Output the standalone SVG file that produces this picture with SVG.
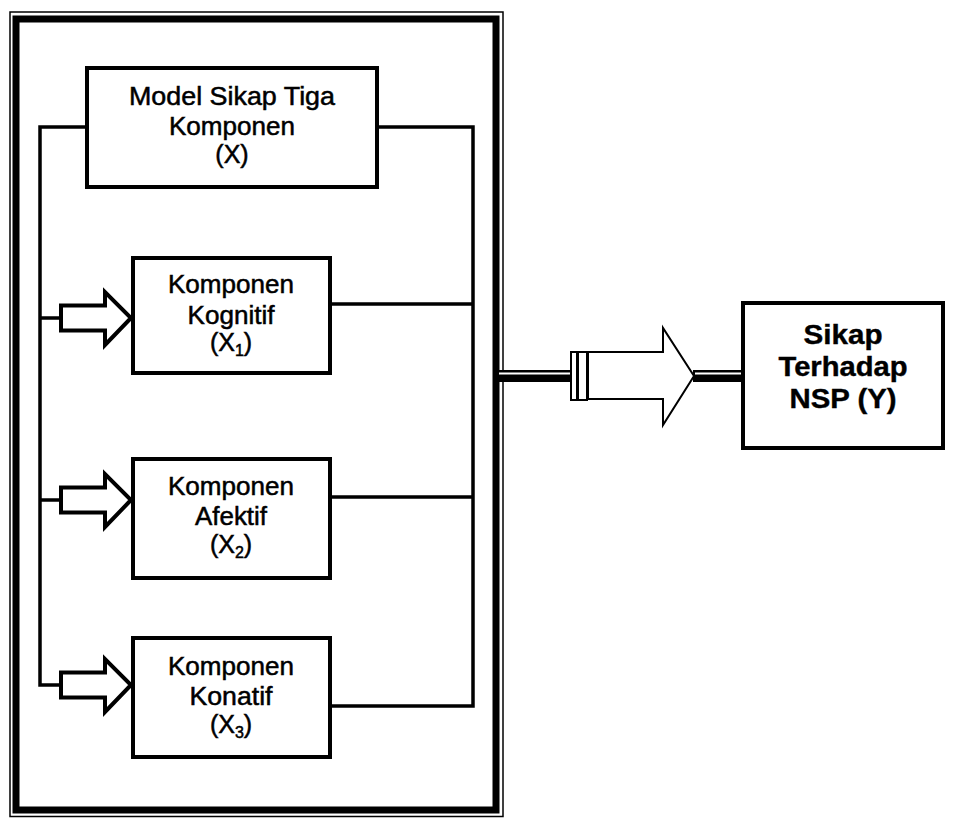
<svg xmlns="http://www.w3.org/2000/svg" width="953" height="818" viewBox="0 0 953 818">
<style>
.box{fill:#fff;stroke:#000;stroke-width:4}
.conn{fill:none;stroke:#000;stroke-width:3.5}
.t{font-family:"Liberation Sans",Arial,sans-serif;font-size:25px;fill:#000;stroke:#000;stroke-width:0.5;text-anchor:middle}
.tb{font-family:"Liberation Sans",Arial,sans-serif;font-size:27px;font-weight:bold;fill:#000;stroke:#000;stroke-width:0.4;text-anchor:middle}
.sub{font-size:16px}
.barrow{fill:#fff;stroke:#000;stroke-width:4;stroke-linejoin:miter}
</style>
<defs>
<polygon id="blk" points="61,-12.5 105,-12.5 105,-26 131,0 105,27 105,12.5 61,12.5"/>
</defs>
<rect width="953" height="818" fill="#fff"/>
<g id="frame">
<rect x="10" y="12" width="493" height="804.5" fill="none" stroke="#000" stroke-width="1.5"/>
<rect x="16" y="19" width="480" height="791" fill="none" stroke="#000" stroke-width="7"/>
</g>
<g id="connectors">
<path class="conn" d="M87,127 H40 V685 H61 M40,318 H61 M40,500 H61"/>
<path class="conn" d="M377,127 H473 V706 H330 M330,304 H473 M330,497 H473"/>
<use href="#blk" class="barrow" transform="translate(0,318)"/>
<use href="#blk" class="barrow" transform="translate(0,500)"/>
<use href="#blk" class="barrow" transform="translate(0,685)"/>
<rect x="499" y="370" width="72" height="12" fill="#000"/>
<line x1="499" y1="373.5" x2="571" y2="373.5" stroke="#fff" stroke-width="2"/>
<rect x="571" y="352" width="6" height="48" fill="#fff" stroke="#000" stroke-width="2"/>
<rect x="578" y="352" width="9" height="48" fill="#fff" stroke="#000" stroke-width="2"/>
<polygon points="588,352 663,352 663,328 694,376 663,425 663,399 588,399" fill="#fff" stroke="#000" stroke-width="2"/>
<rect x="693" y="370" width="50" height="12" fill="#000"/>
<line x1="695" y1="373.5" x2="743" y2="373.5" stroke="#fff" stroke-width="2"/>
</g>
<g id="model">
<rect class="box" x="87" y="68" width="290" height="119"/>
<text class="t" x="232" y="105" textLength="206" lengthAdjust="spacingAndGlyphs">Model Sikap Tiga</text>
<text class="t" x="232" y="135" textLength="126" lengthAdjust="spacingAndGlyphs">Komponen</text>
<text class="t" x="232" y="163">(X)</text>
</g>
<g id="kognitif">
<rect class="box" x="133" y="258" width="197" height="115"/>
<text class="t" x="231" y="293" textLength="126" lengthAdjust="spacingAndGlyphs">Komponen</text>
<text class="t" x="231" y="324" textLength="87" lengthAdjust="spacingAndGlyphs">Kognitif</text>
<text class="t" x="231" y="351">(X<tspan class="sub" dy="5">1</tspan><tspan dy="-5">)</tspan></text>
</g>
<g id="afektif">
<rect class="box" x="133" y="459" width="197" height="119"/>
<text class="t" x="231" y="495" textLength="126" lengthAdjust="spacingAndGlyphs">Komponen</text>
<text class="t" x="231" y="525" textLength="72" lengthAdjust="spacingAndGlyphs">Afektif</text>
<text class="t" x="231" y="553">(X<tspan class="sub" dy="5">2</tspan><tspan dy="-5">)</tspan></text>
</g>
<g id="konatif">
<rect class="box" x="133" y="638" width="197" height="119"/>
<text class="t" x="231" y="675" textLength="126" lengthAdjust="spacingAndGlyphs">Komponen</text>
<text class="t" x="231" y="705" textLength="83" lengthAdjust="spacingAndGlyphs">Konatif</text>
<text class="t" x="231" y="733">(X<tspan class="sub" dy="5">3</tspan><tspan dy="-5">)</tspan></text>
</g>
<g id="sikap">
<rect class="box" x="743" y="303" width="200" height="145"/>
<text class="tb" x="843" y="344" textLength="79" lengthAdjust="spacingAndGlyphs">Sikap</text>
<text class="tb" x="843" y="376" textLength="129" lengthAdjust="spacingAndGlyphs">Terhadap</text>
<text class="tb" x="843" y="408" textLength="107" lengthAdjust="spacingAndGlyphs">NSP (Y)</text>
</g>
</svg>
